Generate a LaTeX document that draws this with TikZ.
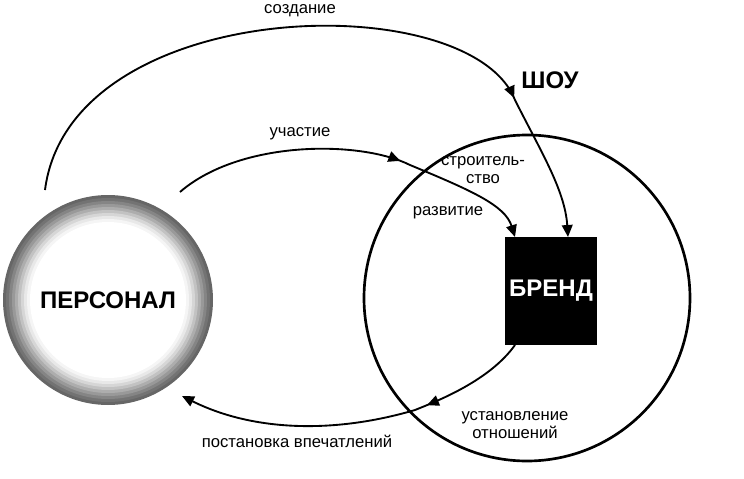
\documentclass[tikz,border=0pt]{standalone}
\usepackage{fontspec}
\setmainfont{Liberation Sans}
\usetikzlibrary{arrows.meta,decorations.markings}
\begin{document}
\begin{tikzpicture}[x=0.75pt,y=-0.75pt,
  conn/.style={line width=1.4pt},
  midarrow/.style={postaction={decorate},decoration={markings,mark=at position #1 with {\arrow{Triangle[length=9pt,width=8pt]}}}},
  lbl/.style={font=\fontsize{12.5}{14}\selectfont,align=center},
  big/.style={font=\fontsize{18}{21}\selectfont\bfseries}]
\useasboundingbox (0,0) rectangle (744,479);
% show circle
\node[draw,circle,line width=2pt,minimum size=326pt*0.75,inner sep=0] (show) at (527,298) {};
\node[big] (showlbl) at (550,80) {ШОУ};
% personal
\foreach \r/\g in {105/60,102/55,99/48,96/40,93/32,90/24,87/16,84/9,81/4,78/0}
  \fill[black!\g] (108,300) circle[radius=\r];
\node[circle,minimum size=210pt*0.75,inner sep=0,big] (pers) at (108,300) {ПЕРСОНАЛ};
% brand
\node[fill=black,minimum width=92pt*0.75,minimum height=108pt*0.75,inner sep=0,text=white,big] (brand) at (551,291) {БРЕНД};
\coordinate (bTop) at (568,237);
\coordinate (bTL) at (515,237);
\coordinate (bBot) at (515,345);
% creation
\draw[conn,midarrow=0.79,-{Triangle[length=9pt,width=8pt]}] (45,190) .. controls (70,-5) and (470,-15) .. (515,100) .. controls (540,150) and (565,190) .. (bTop);
\node[lbl] (l1) at (300,11) {создание};
% participation
\draw[conn,midarrow=0.62,-{Triangle[length=9pt,width=8pt]}] (180,192) .. controls (240,140) and (360,140) .. (410,165) .. controls (470,190) and (505,205) .. (bTL);
\node[lbl] (l2) at (300,134) {участие};
\node[lbl] (l3) at (483,170) {строитель-\\ство};
\node[lbl] (l4) at (448,213) {развитие};
% relation
\draw[conn,midarrow=0.3,-{Triangle[length=9pt,width=8pt]}] (bBot) .. controls (490,380) and (440,400) .. (415,410) .. controls (330,435) and (250,430) .. (182,396);
\node[lbl] (l5) at (515,425) {установление\\ отношений};
\node[lbl] (l6) at (297,441) {постановка впечатлений};
\end{tikzpicture}
\end{document}
